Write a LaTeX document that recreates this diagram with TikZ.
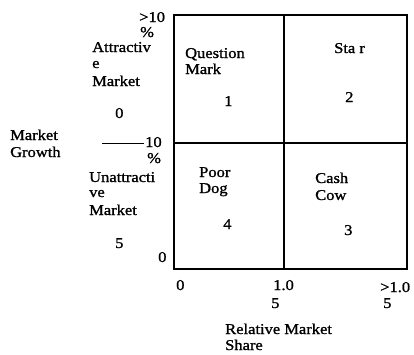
\documentclass[tikz,border=0pt]{standalone}
\usepackage{fontspec}
\setmainfont[FakeStretch=1.1,FakeBold=1.2]{Liberation Serif}
\begin{document}
\begin{tikzpicture}[x=1pt,y=-1pt,
  lbl/.style={anchor=base west,inner sep=0pt,font=\fontsize{15}{16}\selectfont},
  grid/.style={line width=1.6pt},
  tick/.style={line width=1pt}]
\useasboundingbox (0,0) rectangle (414,354);
% matrix box
\coordinate (tl) at (174,15);
\coordinate (br) at (407,269);
\coordinate (tm) at (284,15);
\coordinate (bm) at (284,269);
\coordinate (ml) at (174,143);
\coordinate (mr) at (407,143);
\draw[grid] (tl) rectangle (br);
\draw[grid] (tm) -- (bm);
\draw[grid] (ml) -- (mr);
% left axis labels
\node[lbl] (gt10) at (139,22) {>10};
\node[lbl] (pc1) at (140,37) {\%};
\node[lbl] (att1) at (92,52) {Attractiv};
\node[lbl] (att2) at (92,68) {e};
\node[lbl] (att3) at (92,86) {Market};
\node[lbl] (z0) at (115,118) {0};
\node[lbl] (mg1) at (10,140) {Market};
\node[lbl] (mg2) at (10,157) {Growth};
\coordinate (dashA) at (102,143);
\coordinate (dashB) at (144,143);
\draw[tick] (dashA) -- (dashB);
\node[lbl] (ten) at (145,147) {10};
\node[lbl] (pc2) at (147,163) {\%};
\node[lbl] (un1) at (89,182) {Unattracti};
\node[lbl] (un2) at (89,197) {ve};
\node[lbl] (un3) at (89,215) {Market};
\node[lbl] (five) at (115,248) {5};
\node[lbl] (zl) at (158,262) {0};
% quadrant labels
\node[lbl] (q1) at (185,58) {Question};
\node[lbl] (q2) at (185,74) {Mark};
\node[lbl] (n1) at (224,106) {1};
\node[lbl] (st) at (334,53) {Sta r};
\node[lbl] (n2) at (345,102) {2};
\node[lbl] (pd1) at (199,177) {Poor};
\node[lbl] (pd2) at (199,193) {Dog};
\node[lbl] (n4) at (223,229) {4};
\node[lbl] (cc1) at (315,183) {Cash};
\node[lbl] (cc2) at (315,200) {Cow};
\node[lbl] (n3) at (344,235) {3};
% bottom axis labels
\node[lbl] (zb) at (176,290) {0};
\node[lbl] (x1a) at (273,290) {1.0};
\node[lbl] (x1b) at (271,308) {5};
\node[lbl] (x2a) at (380,292) {>1.0};
\node[lbl] (x2b) at (383,308) {5};
\node[lbl] (rm1) at (225,334) {Relative Market};
\node[lbl] (rm2) at (225,350) {Share};
\end{tikzpicture}
\end{document}
